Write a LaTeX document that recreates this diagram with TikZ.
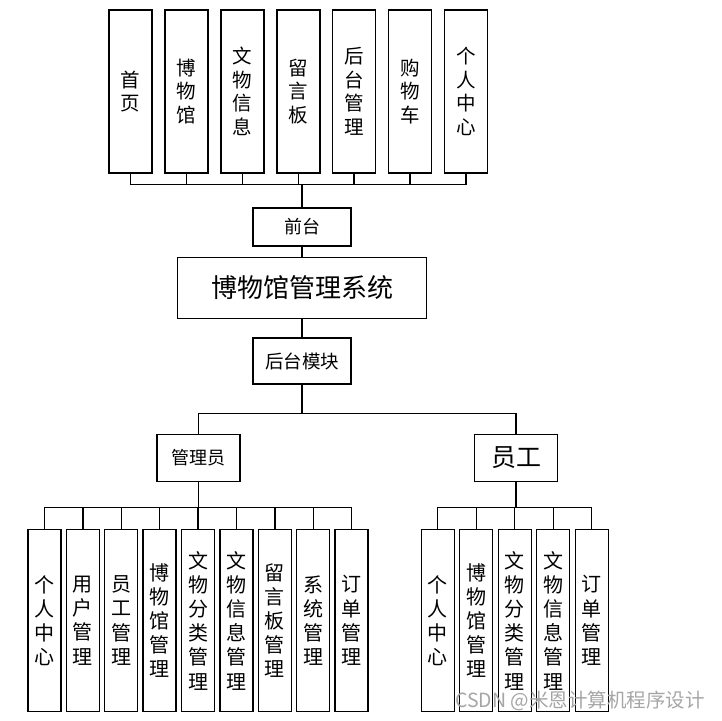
\documentclass[tikz,border=0pt]{standalone}
\usepackage{fontspec}
\newfontfamily\cjk{Noto Sans CJK SC}
\begin{document}
\begin{tikzpicture}[x=1pt,y=-1pt,
  box/.style={draw=black,line width=1.4pt,fill=white,inner sep=0pt,align=center,font=\cjk},
  topbox/.style={box,minimum width=43pt,minimum height=163pt,font=\cjk\fontsize{19.5}{23.5}\selectfont},
  leaf/.style={box,minimum width=33pt,minimum height=182pt,font=\cjk\fontsize{20}{24.2}\selectfont},
  conn/.style={line width=1.4pt}]
\useasboundingbox (0,0) rectangle (722,720);
% top row
\node[topbox] (t1) at (130.5,91.5) {首\\页};
\node[topbox] (t2) at (186.5,91.5) {博\\物\\馆};
\node[topbox] (t3) at (242.5,91.5) {文\\物\\信\\息};
\node[topbox] (t4) at (298.5,91.5) {留\\言\\板};
\node[topbox] (t5) at (354,91.5) {后\\台\\管\\理};
\node[topbox] (t6) at (410,91.5) {购\\物\\车};
\node[topbox] (t7) at (466,91.5) {个\\人\\中\\心};
\coordinate (busT) at (302,184.3);
\node[box,minimum width=98pt,minimum height=38pt,font=\cjk\fontsize{18}{20}\selectfont] (qt) at (302,227) {前台};
\node[box,minimum width=249pt,minimum height=61pt,font=\cjk\fontsize{26}{28}\selectfont] (main) at (302,287.7) {博物馆管理系统};
\node[box,minimum width=98pt,minimum height=46pt,font=\cjk\fontsize{18.5}{20}\selectfont] (hm) at (302,361) {后台模块};
\coordinate (busB) at (302,413.3);
\node[box,minimum width=83pt,minimum height=47pt,font=\cjk\fontsize{18}{20}\selectfont] (gly) at (198.3,457.7) {管理员};
\node[box,minimum width=83pt,minimum height=47pt,font=\cjk\fontsize{25}{27}\selectfont] (yg) at (516,457.7) {员工};
\coordinate (busA) at (198.3,507.3);
\coordinate (busS) at (516,507.3);
% admin leaves
\node[leaf] (a1) at (44.4,620.5) {个\\人\\中\\心};
\node[leaf] (a2) at (82.8,620.5) {用\\户\\管\\理};
\node[leaf] (a3) at (121.2,620.5) {员\\工\\管\\理};
\node[leaf] (a4) at (159.6,620.5) {博\\物\\馆\\管\\理};
\node[leaf] (a5) at (198,620.5) {文\\物\\分\\类\\管\\理};
\node[leaf] (a6) at (236.4,620.5) {文\\物\\信\\息\\管\\理};
\node[leaf] (a7) at (274.8,620.5) {留\\言\\板\\管\\理};
\node[leaf] (a8) at (313.2,620.5) {系\\统\\管\\理};
\node[leaf] (a9) at (351.6,620.5) {订\\单\\管\\理};
% staff leaves
\node[leaf] (s1) at (437.7,620.5) {个\\人\\中\\心};
\node[leaf] (s2) at (476.2,620.5) {博\\物\\馆\\管\\理};
\node[leaf] (s3) at (514.7,620.5) {文\\物\\分\\类\\管\\理};
\node[leaf] (s4) at (553.2,620.5) {文\\物\\信\\息\\管\\理};
\node[leaf] (s5) at (591.7,620.5) {订\\单\\管\\理};
% connectors
\foreach \n in {t1,t2,t3,t4,t5,t6,t7} \draw[conn] (\n.south) |- (busT);
\draw[conn] (busT) -- (qt.north);
\draw[conn] (qt.south) -- (main.north);
\draw[conn] (main.south) -- (hm.north);
\draw[conn] (hm.south) -- (busB);
\draw[conn] (gly.north) |- (busB);
\draw[conn] (yg.north) |- (busB);
\draw[conn] (gly.south) -- (busA);
\foreach \n in {a1,a2,a3,a4,a5,a6,a7,a8,a9} \draw[conn] (\n.north) |- (busA);
\draw[conn] (yg.south) -- (busS);
\foreach \n in {s1,s2,s3,s4,s5} \draw[conn] (\n.north) |- (busS);
% watermark
\node[text=gray!70,font=\cjk\fontsize{19.5}{21}\selectfont,anchor=center,inner sep=0pt] (wm) at (580,701) {CSDN @米恩计算机程序设计};
\end{tikzpicture}
\end{document}
